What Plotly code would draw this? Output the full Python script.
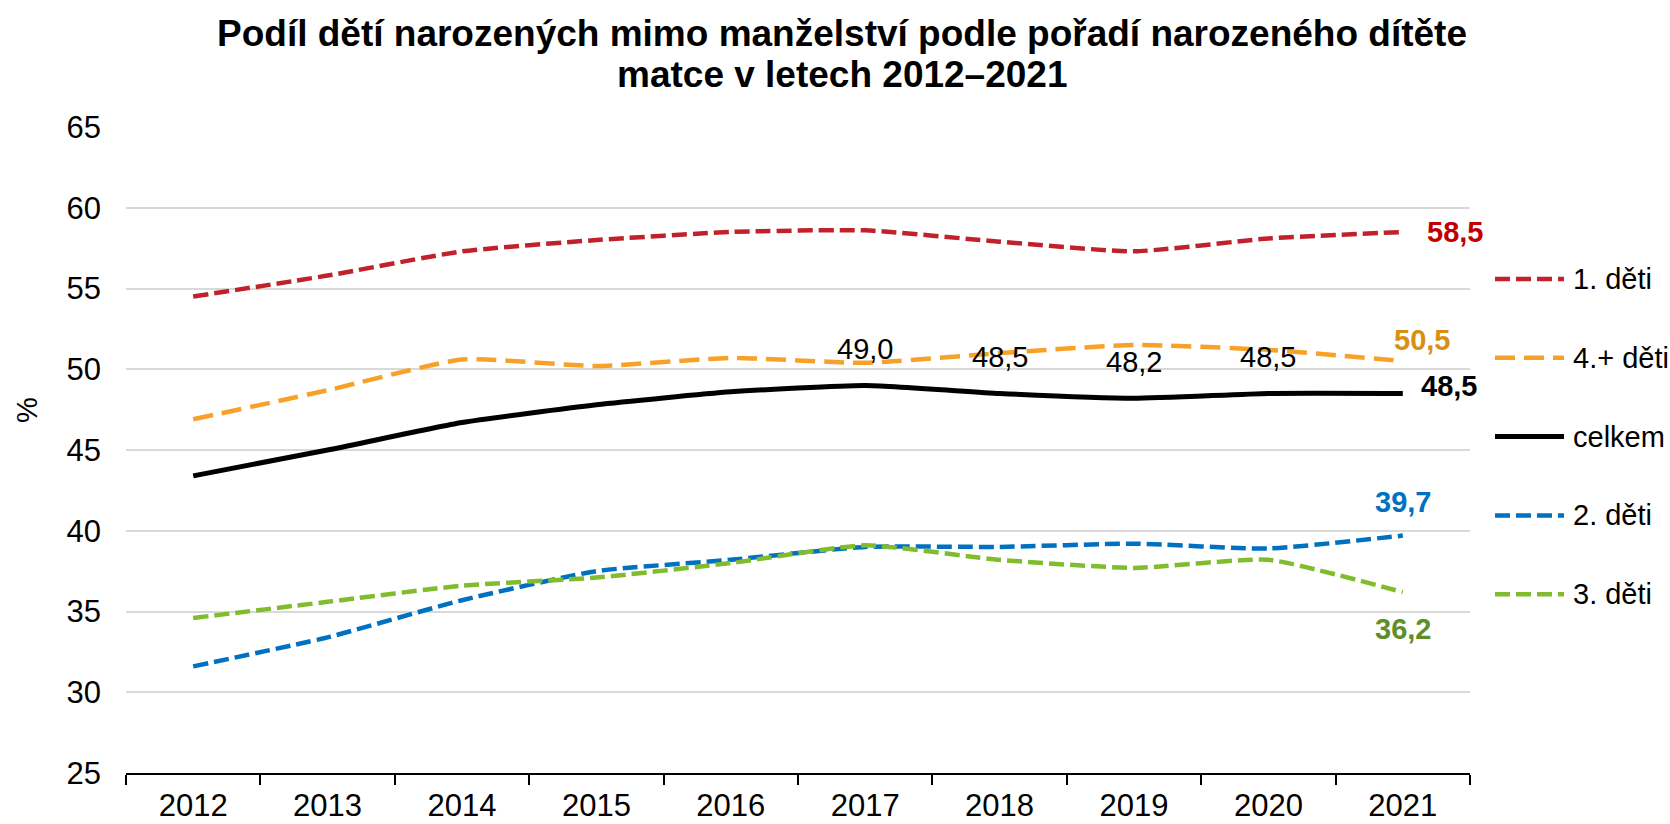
import plotly.graph_objects as go

years = ["2012", "2013", "2014", "2015", "2016", "2017", "2018", "2019", "2020", "2021"]
first = [54.5, 55.8, 57.3, 58.0, 58.5, 58.6, 57.9, 57.3, 58.1, 58.5]
fourth_plus = [46.9, 48.7, 50.6, 50.2, 50.7, 50.4, 51.0, 51.5, 51.2, 50.5]
total = [43.4, 45.0, 46.7, 47.8, 48.6, 49.0, 48.5, 48.2, 48.5, 48.5]
second = [31.6, 33.4, 35.7, 37.5, 38.2, 39.0, 39.0, 39.2, 38.9, 39.7]
third = [34.6, 35.6, 36.6, 37.1, 38.0, 39.1, 38.2, 37.7, 38.2, 36.2]

names = ["1. děti", "4.+ děti", "celkem", "2. děti", "3. děti"]
title_lines = ["Podíl dětí narozených mimo manželství podle pořadí narozeného dítěte",
               "matce v letech 2012–2021"]
y_title = "%"

FONT = "Liberation Sans, Arial, sans-serif"

# plot area geometry (pixels) used to place paper-referenced decorations
W, H = 1670, 824
L, R, T, B = 126, 200, 127, 51
PW, PH = W - L - R, H - T - B

def px(xp):
    return (xp - L) / PW

def py(yp):
    return (H - B - yp) / PH

fig = go.Figure()

series = [
    (names[0], first, "#C1212B", "15px,6px", 4.5),
    (names[1], fourth_plus, "#F7A128", "20px,9px", 4.5),
    (names[2], total, "#000000", "solid", 5),
    (names[3], second, "#0070C0", "15px,6px", 4.5),
    (names[4], third, "#80BC2E", "15px,6px", 4.5),
]

for i, (nm, vals, col, dash, w) in enumerate(series):
    fig.add_trace(go.Scatter(
        x=years, y=vals, name=nm, mode="lines",
        line=dict(color=col, width=w, dash=dash, shape="spline", smoothing=0.5),
        showlegend=False, hoverinfo="skip",
    ))

def fmt(v):
    return f"{v:.1f}".replace(".", ",")

LBL = 29
anns = []
# celkem labels 2017-2020 above the line
for k in range(5, 9):
    anns.append(dict(x=k, y=total[k], xref="x", yref="y", text=fmt(total[k]), showarrow=False,
                     yshift=36, font=dict(size=LBL, color="#000000", family=FONT)))
last = len(years) - 1
anns.append(dict(x=last, y=total[last], xref="x", yref="y", text=f"<b>{fmt(total[last])}</b>",
                 showarrow=False, xanchor="left", xshift=16, yshift=7,
                 font=dict(size=LBL, color="#000000", family=FONT)))
anns.append(dict(x=last, y=first[last], xref="x", yref="y", text=f"<b>{fmt(first[last])}</b>",
                 showarrow=False, xanchor="left", xshift=22,
                 font=dict(size=LBL, color="#C00000", family=FONT)))
anns.append(dict(x=last, y=fourth_plus[last], xref="x", yref="y", text=f"<b>{fmt(fourth_plus[last])}</b>",
                 showarrow=False, xshift=19, yshift=21,
                 font=dict(size=LBL, color="#D9900F", family=FONT)))
anns.append(dict(x=last, y=second[last], xref="x", yref="y", text=f"<b>{fmt(second[last])}</b>",
                 showarrow=False, yshift=34,
                 font=dict(size=LBL, color="#0070C0", family=FONT)))
anns.append(dict(x=last, y=third[last], xref="x", yref="y", text=f"<b>{fmt(third[last])}</b>",
                 showarrow=False, yshift=-37,
                 font=dict(size=LBL, color="#5E8E26", family=FONT)))

# title (two lines)
anns.append(dict(x=px(842), y=py(34), xref="paper", yref="paper", text=f"<b>{title_lines[0]}</b>",
                 showarrow=False, xanchor="center", yanchor="middle",
                 font=dict(size=37, color="#000000", family=FONT)))
anns.append(dict(x=px(842), y=py(75), xref="paper", yref="paper", text=f"<b>{title_lines[1]}</b>",
                 showarrow=False, xanchor="center", yanchor="middle",
                 font=dict(size=37, color="#000000", family=FONT)))
# y-axis title
anns.append(dict(x=px(27), y=py(410), xref="paper", yref="paper", text=y_title, textangle=-90,
                 showarrow=False, xanchor="center", yanchor="middle",
                 font=dict(size=29, color="#000000", family=FONT)))

# custom legend
shapes = []
leg_y0, leg_dy = 279, 78.8
for i, (nm, vals, col, dash, w) in enumerate(series):
    yy = py(leg_y0 + i * leg_dy)
    shapes.append(dict(type="line", xref="paper", yref="paper", x0=px(1495), x1=px(1564),
                       y0=yy, y1=yy, line=dict(color=col, width=w, dash=dash)))
    anns.append(dict(x=px(1571), y=yy, xref="paper", yref="paper", text=nm, showarrow=False,
                     xanchor="left", yanchor="middle",
                     font=dict(size=29, color="#000000", family=FONT)))

fig.update_layout(
    width=W, height=H,
    paper_bgcolor="white", plot_bgcolor="white",
    margin=dict(l=L, r=R, t=T, b=B, autoexpand=False),
    font=dict(family=FONT, color="#000000", size=31),
    annotations=anns,
    shapes=shapes,
    showlegend=False,
    hovermode=False,
    xaxis=dict(type="category", range=[-0.5, 9.5], tickson="boundaries", ticks="outside",
               ticklen=10, tickwidth=1.5, tickcolor="#000000", showline=True, linecolor="#000000",
               linewidth=1.5, showgrid=False, tickfont=dict(size=31), fixedrange=True,
               automargin=False, ticklabelstandoff=4),
    yaxis=dict(range=[25, 65], dtick=5, showgrid=True, gridcolor="#D9D9D9", gridwidth=1.5,
               zeroline=False, showline=False, tickfont=dict(size=31), ticks="",
               ticklabelstandoff=24, automargin=False, fixedrange=True),
)

fig.write_html("out.html", config={"displayModeBar": False},
               post_script="document.body.style.margin='0px';")
